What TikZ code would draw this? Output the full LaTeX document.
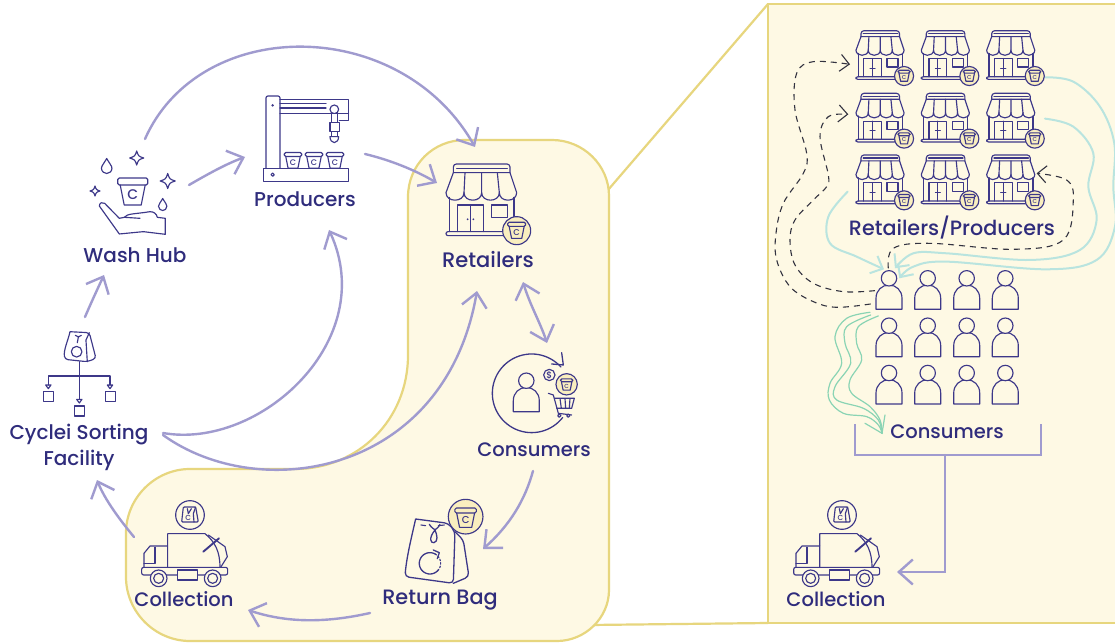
\documentclass[tikz,border=0pt]{standalone}
\usepackage{fontspec}
\setmainfont{Poppins Medium}
\usetikzlibrary{arrows.meta}
\definecolor{navy}{HTML}{2F2C7C}
\definecolor{iconc}{HTML}{3D3889}
\definecolor{lav}{HTML}{A09BCF}
\definecolor{yel}{HTML}{E7D67E}
\definecolor{cream}{HTML}{FEF9E4}
\definecolor{badge}{HTML}{F9EEBF}
\definecolor{tealc}{HTML}{B9E4DF}
\definecolor{greenc}{HTML}{8AD4B4}
\definecolor{dashc}{HTML}{333340}
\newcounter{icn}
\tikzset{
 lbl/.style={text=navy,align=center,inner sep=0pt},
 icon/.style={draw=iconc,line width=1.15pt,line join=round,line cap=round},
 arr/.style={draw=lav,line width=2.4pt,line cap=round,-{Straight Barb[length=14pt,width=25pt]}},
 arrb/.style={draw=lav,line width=2.4pt,line cap=round,{Straight Barb[length=14pt,width=25pt]}-{Straight Barb[length=14pt,width=25pt]}},
 tealline/.style={draw=tealc,line width=2pt,line cap=round,-{Straight Barb[length=10pt,width=19pt]}},
 greenline/.style={draw=greenc,line width=1.2pt,line cap=round},
 dashline/.style={draw=dashc,line width=1.1pt,dash pattern=on 6pt off 5pt,-{Straight Barb[length=9pt,width=17pt]}},
 yelline/.style={draw=yel,line width=2.2pt},
}
\newcommand\fs[1]{\fontsize{#1}{26}\selectfont}
\newcommand\cupicon[3]{%
 \begin{scope}[shift={(#1,#2)},scale=#3]
  \stepcounter{icn}
  \draw[icon,rounded corners=1.5pt] (-15,-13) rectangle (15,-6);
  \draw[icon] (-12.5,-6) -- (-8.5,14) -- (8.5,14) -- (12.5,-6);
  \node[text=iconc,font=\fontsize{14}{14}\selectfont,transform shape,inner sep=0pt] (cupc\arabic{icn}) at (0,4) {C};
 \end{scope}}
\newcommand\shopicon[4]{%
 \begin{scope}[shift={(#1,#2)},scale=#3*0.3333,shift={(-78,-42)}]
  \draw[icon,rounded corners=3pt] (100,68) -- (100,42) -- (270,42) -- (270,68);
  \draw[icon] (110,55) -- (262,55);
  \draw[icon] (100,68) -- (270,68) -- (290,128) .. controls (290,158) and (238,158) .. (238,128) .. controls (238,158) and (185,158) .. (185,128) .. controls (185,158) and (132,158) .. (132,128) .. controls (132,158) and (78,158) .. (78,128) -- cycle;
  \draw[icon] (135,68) -- (132,128) (185,68) -- (185,128) (232,68) -- (238,128);
  \draw[icon] (88,142) -- (88,245) (282,142) -- (282,210);
  \draw[icon,rounded corners=2pt] (78,245) rectangle (255,257);
  \draw[icon] (112,245) -- (112,165) -- (190,165) -- (190,245) (151,165) -- (151,245);
  \draw[icon] (215,165) rectangle (263,202);
  #4
  \draw[icon,fill=badge] (290,242) circle[radius=42pt];
  \cupicon{290}{240}{1.8}
 \end{scope}}
\newcommand\bagicon[3]{%
 \begin{scope}[shift={(#1,#2)},scale=#3*0.3333,shift={(-238,-80)}]
  \draw[icon,rounded corners=3pt] (210,35) -- (268,38) -- (288,115) -- (262,125) -- (195,118) .. controls (190,90) and (205,60) .. (210,35);
  \draw[icon] (268,38) -- (258,60) -- (262,125);
  \draw[icon] (230,95) circle[radius=16pt];
  \draw[icon] (226,46) .. controls (232,52) and (240,52) .. (244,46) (235,52) -- (232,68);
 \end{scope}}
\newcommand\minibag[3]{%
 \begin{scope}[shift={(#1,#2)},scale=#3]
  \stepcounter{icn}
  \draw[icon,rounded corners=1pt] (-20,-25) -- (17,-25) -- (25,20) -- (-25,20) -- cycle;
  \draw[icon] (17,-25) -- (10,-5) -- (12,20);
  \draw[icon] (-8,-20) -- (-5,-5) (4,-20) -- (-5,-5);
  \node[text=iconc,font=\fontsize{22}{22}\selectfont,transform shape,inner sep=0pt] (cupc\arabic{icn}) at (-5,9) {C};
 \end{scope}}
\newcommand\truckicon[1]{%
 \begin{scope}[shift={(120+#1,490)},scale=0.3333]
  \draw[icon] (143,232) -- (143,131) -- (255,131) .. controls (285,155) and (300,185) .. (300,232);
  \draw[icon] (265,135) -- (315,170) -- (322,200) -- (302,232);
  \draw[draw=iconc,line width=1.9pt,line cap=round] (250,185) -- (297,145);
  \draw[icon] (143,168) -- (90,168) -- (72,190) -- (72,232);
  \draw[icon] (105,172) -- (105,220) -- (72,220);
  \draw[icon,rounded corners=2pt] (65,232) rectangle (323,255);
  \draw[icon,fill=cream] (172,240) rectangle (232,270);
  \draw[icon,fill=cream] (116,265) circle[radius=25pt];
  \draw[icon] (116,265) circle[radius=15pt];
  \draw[icon,fill=cream] (278,265) circle[radius=25pt];
  \draw[icon] (278,265) circle[radius=15pt];
  \draw[icon,fill=cream] (210,75) circle[radius=43pt];
  \minibag{210}{76}{1}
 \end{scope}}
\newcommand\personicon[3]{%
 \begin{scope}[shift={(#1,#2)},scale=#3]
  \draw[icon] (-13,0) -- (-13,-11) .. controls (-13,-19) and (-7,-24.3) .. (0,-24.3) .. controls (7,-24.3) and (13,-19) .. (13,-11) -- (13,0) -- cycle;
  \draw[icon,fill=cream] (0,-31) circle[radius=7.7pt];
 \end{scope}}
\newcommand\sparkle[3]{%
 \draw[icon] (#1,#2-#3) .. controls (#1+.25*#3,#2-.25*#3) .. (#1+#3,#2) .. controls (#1+.25*#3,#2+.25*#3) .. (#1,#2+#3) .. controls (#1-.25*#3,#2+.25*#3) .. (#1-#3,#2) .. controls (#1-.25*#3,#2-.25*#3) .. (#1,#2-#3) -- cycle;}
\newcommand\dropicon[3]{%
 \draw[icon] (#1,#2-#3) .. controls (#1+.4*#3,#2-.3*#3) and (#1+.7*#3,#2) .. (#1+.7*#3,#2+.3*#3) .. controls (#1+.7*#3,#2+.75*#3) and (#1+.3*#3,#2+#3) .. (#1,#2+#3) .. controls (#1-.3*#3,#2+#3) and (#1-.7*#3,#2+.75*#3) .. (#1-.7*#3,#2+.3*#3) .. controls (#1-.7*#3,#2) and (#1-.4*#3,#2-.3*#3) .. (#1,#2-#3) -- cycle;}
\begin{document}
\begin{tikzpicture}[x=1pt,y=-1pt]
\useasboundingbox (0,0) rectangle (1115,644);
\fill[white] (0,0) rectangle (1115,644);
% named ends
\coordinate (panelTL) at (768,4);
\coordinate (panelBL) at (768,623);
\coordinate (panelTR) at (1116,4);
\coordinate (panelBR) at (1116,623);
\coordinate (shapeTop) at (608,190);
\coordinate (shapeBot) at (590,625);
% panel
\fill[cream] (panelTL) rectangle (panelBR);
\draw[yelline] (panelTR) -- (panelTL) -- (panelBL) -- (panelBR);
\draw[yelline] (shapeTop) -- (panelTL);
\draw[yelline] (shapeBot) -- (panelBL);
% rounded region
\draw[yelline,fill=cream] (465,140) -- (552,140) .. controls (583,140) and (609,165) .. (609,196) -- (609,590) .. controls (609,618) and (585,641) .. (557,641) -- (190,641) .. controls (155,641) and (126,612) .. (126,577) -- (126,533) .. controls (126,498) and (155,469) .. (190,469) -- (295,469) .. controls (358,469) and (408,420) .. (408,355) -- (408,197) .. controls (408,165) and (433,140) .. (465,140) -- cycle;
% connector ends
\coordinate (hubTop) at (145,139);
\coordinate (retIn1) at (475,147);
\coordinate (hubR) at (189,185);
\coordinate (prodIn) at (245,157);
\coordinate (prodOut) at (365,154);
\coordinate (retIn2) at (437,183);
\coordinate (sortA) at (163,433);
\coordinate (prodIn2) at (329,230);
\coordinate (sortB) at (163,435);
\coordinate (retIn3) at (477,291);
\coordinate (retOut) at (523,282);
\coordinate (consIn) at (547,343);
\coordinate (consOut) at (533,471);
\coordinate (bagIn) at (483,549);
\coordinate (bagOut) at (370,613);
\coordinate (colIn) at (248,610);
\coordinate (colOut) at (134,537);
\coordinate (sortIn) at (97,480);
\coordinate (sortOut) at (85,317);
\coordinate (hubIn) at (104,275);
\draw[arr] (hubTop) .. controls (200,15) and (400,15) .. (retIn1);
\draw[arr] (hubR) .. controls (208,174) and (226,164) .. (prodIn);
\draw[arr] (prodOut) .. controls (390,160) and (415,170) .. (retIn2);
\draw[arr] (sortA) .. controls (260,450) and (380,340) .. (prodIn2);
\draw[arr] (sortB) .. controls (260,505) and (445,475) .. (retIn3);
\draw[arrb] (retOut) .. controls (530,305) and (540,322) .. (consIn);
\draw[arr] (consOut) .. controls (525,500) and (510,525) .. (bagIn);
\draw[arr] (bagOut) .. controls (330,622) and (290,624) .. (colIn);
\draw[arr] (colOut) .. controls (120,520) and (105,500) .. (sortIn);
\draw[arr] (sortOut) .. controls (91,303) and (97,290) .. (hubIn);
% bracket right
\coordinate (brL) at (855,424);
\coordinate (brR) at (1041,424);
\coordinate (stemTop) at (945,455);
\coordinate (colRight) at (897,572);
\draw[draw=lav,line width=2.4pt] (brL) -- (855,455) -- (1041,455) -- (brR);
\draw[arr] (stemTop) -- (945,572) -- (colRight);
% Teal, dashed, green connectors (zoom coordinates)
\begin{scope}[shift={(780,20)},scale=0.3333]
 \coordinate (tealA) at (203,515);
 \coordinate (tealB) at (795,296);
 \coordinate (tealC) at (795,172);
 \coordinate (persA) at (312,748);
 \coordinate (persB) at (345,745);
 \coordinate (persC) at (358,775);
 \coordinate (dashS1) at (285,812);
 \coordinate (dashS2) at (272,852);
 \coordinate (dashS3) at (325,745);
 \coordinate (shop21) at (205,283);
 \coordinate (shop11) at (210,133);
 \coordinate (shop33) at (770,460);
 \coordinate (gS1) at (270,877);
 \coordinate (gS2) at (272,885);
 \coordinate (gS3) at (295,888);
 \coordinate (gE) at (306,1240);
 \draw[tealline] plot[smooth,tension=.6] coordinates {(tealA) (145,590) (150,670) (230,710) (persA)};
 \draw[tealline] plot[smooth,tension=.6] coordinates {(tealB) (880,320) (940,400) (925,500) (950,600) (900,690) (750,720) (500,700) (400,700) (persB)};
 \draw[tealline] plot[smooth,tension=.6] coordinates {(tealC) (880,185) (960,260) (1003,370) (1000,500) (1005,620) (950,720) (800,748) (500,725) (400,740) (persC)};
 \draw[dashline] plot[smooth,tension=.6] coordinates {(dashS1) (190,815) (100,790) (45,735) (30,660) (45,600) (100,540) (140,500) (145,465) (120,350) (145,290) (shop21)};
 \draw[dashline] plot[smooth,tension=.6] coordinates {(dashS2) (170,862) (100,845) (30,800) (-10,720) (-12,640) (10,550) (70,460) (80,400) (45,270) (50,160) (100,125) (shop11)};
 \draw[dashline] plot[smooth,tension=.6] coordinates {(dashS3) (340,685) (450,670) (700,688) (850,660) (880,540) (860,480) (shop33)};
 \draw[greenline] plot[smooth,tension=.6] coordinates {(gS1) (200,895) (165,950) (185,1030) (150,1090) (148,1140) (190,1180) (260,1190) (295,1215) (gE)};
 \draw[greenline] plot[smooth,tension=.6] coordinates {(gS2) (200,920) (195,970) (212,1030) (165,1100) (170,1140) (250,1165) (295,1200) (gE)};
 \draw[greenline] plot[smooth,tension=.6] coordinates {(gS3) (235,920) (230,970) (245,1020) (210,1080) (215,1120) (270,1160) (300,1200) (gE)};
 \draw[greenline] (255,1210) -- (gE) -- (315,1185);
\end{scope}
% Producers machine
\begin{scope}[shift={(60,80)},scale=0.3333]
 \draw[icon,rounded corners=2pt] (618,265) -- (618,48) -- (660,48) -- (660,265);
 \fill[iconc] (638,76) circle[radius=4pt];
 \draw[icon] (660,58) -- (866,58) -- (866,122) -- (838,122) (660,100) -- (866,100);
 \draw[icon] (660,70) -- (798,70) (660,84) -- (798,84);
 \draw[icon] (610,265) rectangle (866,304);
 \draw[icon] (638,284) circle[radius=5pt];
 \draw[icon,fill=white] (823,88) circle[radius=13pt];
 \draw[icon,fill=white] (815,100) rectangle (832,128);
 \draw[icon,fill=white] (810,128) rectangle (838,155);
 \draw[icon,fill=white] (815,155) rectangle (833,170);
 \draw[icon,fill=white] (810,170) -- (836,170) .. controls (836,180) and (830,188) .. (823,188) .. controls (816,188) and (810,180) .. (810,170) -- cycle;
\end{scope}
\cupicon{293}{160}{0.58}
\cupicon{314}{160}{0.58}
\cupicon{335}{160}{0.58}
% Wash hub
\cupicon{132.7}{191}{1}
\begin{scope}[shift={(60,80)},scale=0.3333]
 \draw[icon] (118,378) .. controls (118,368) and (128,365) .. (134,370) -- (178,415) -- (193,412) .. controls (200,400) and (230,402) .. (270,395) .. controls (282,395) and (290,402) .. (292,412) -- (316,415) -- (316,463) -- (250,455) -- (178,462) -- cycle;
 \draw[icon] (193,412) -- (240,415);
\end{scope}
\dropicon{106.7}{166}{7.5}
\dropicon{162.7}{204.5}{6}
\sparkle{136.7}{158}{7}
\sparkle{167.7}{181}{7.5}
\sparkle{95}{191}{5}
% Retailers
\shopicon{446}{164}{1}{\fill[iconc] (143,208) circle[radius=3pt] (160,208) circle[radius=3pt];}
% Consumers
\begin{scope}[shift={(420,150)},scale=0.3333]
 \draw[icon,line width=1.3pt] plot[smooth,samples=60,domain=38:318] ({335+118*cos(\x)},{730+118*sin(\x)});
 \draw[icon,line width=1.3pt] (425,608) -- (430,645) -- (395,642);
 \draw[icon] (388,675) circle[radius=17pt];
 \node[text=iconc,font=\fontsize{9}{9}\selectfont,inner sep=0pt] (dollar) at (388,675) {\$};
 \draw[icon] (385,730) -- (400,735) -- (415,790) -- (455,795);
 \draw[icon] (403,745) -- (463,745) -- (455,775) -- (410,775) (420,745) -- (424,775) (435,745) -- (437,775) (450,745) -- (448,775);
 \draw[icon] (418,797) circle[radius=5pt] (445,797) circle[radius=5pt];
 \draw[icon,fill=badge] (440,703) circle[radius=32pt];
 \cupicon{440}{703}{1.25}
\end{scope}
\personicon{526.3}{411.7}{1}
% Return bag
\begin{scope}[shift={(120,490)},scale=0.3333]
 \draw[icon,line width=1.3pt,rounded corners=4pt] (887,87) -- (985,100) -- (1005,125) -- (1000,280) -- (855,260) .. controls (860,200) and (875,140) .. (887,87);
 \draw[icon,line width=1.3pt,rounded corners=4pt] (1005,125) -- (1030,150) -- (1047,260) -- (1000,280);
 \draw[icon,line width=1.1pt] (903,105) -- (917,107) (955,107) -- (973,105);
 \draw[icon,line width=1.3pt] (928,103) .. controls (935,115) and (945,118) .. (945,120) .. controls (945,118) and (955,115) .. (960,103);
 \draw[icon,line width=1.3pt] (945,120) .. controls (925,145) and (932,160) .. (942,158) .. controls (955,155) and (952,135) .. (945,120);
 \draw[icon,line width=1.3pt] plot[smooth,samples=40,domain=-320:-60] ({930+32*cos(\x)},{220+32*sin(\x)});
 \draw[icon,line width=1.2pt,dash pattern=on 1.5pt off 2pt] plot[smooth,samples=20,domain=-60:40] ({930+32*cos(\x)},{220+32*sin(\x)});
 \draw[icon,line width=1.3pt] (940,180) -- (958,188) -- (952,206);
 \draw[icon,fill=badge] (1037,80) circle[radius=52pt];
 \cupicon{1037}{82}{2.15}
\end{scope}
% Trucks
\truckicon{0}
\truckicon{652}
% Sorting
\begin{scope}[shift={(0,320)},scale=0.3333]
 \draw[icon] (238,125) -- (238,238) (145,195) -- (145,168) -- (330,168) -- (330,195);
 \draw[icon] (137,195) -- (153,195) -- (145,206) -- cycle;
 \draw[icon] (322,195) -- (338,195) -- (330,206) -- cycle;
 \draw[icon] (230,238) -- (246,238) -- (238,249) -- cycle;
 \draw[icon] (130,215) rectangle (160,245);
 \draw[icon] (224,258) rectangle (254,288);
 \draw[icon] (316,215) rectangle (346,245);
\end{scope}
\bagicon{79.3}{346.7}{1}
% Grids
\foreach \i/\ix in {0/856,1/921.3,2/986.7}{
 \foreach \j/\jy in {0/30.7,1/93.3,2/155}{
  \shopicon{\ix}{\jy}{0.68}{\draw[icon] (140,208) -- (162,208);}
 }}
\foreach \ix in {889,927.7,966.7,1005.3}{
 \foreach \jy in {309.3,356.7,404}{
  \personicon{\ix}{\jy}{1}
 }}
% Labels
\node[lbl,font=\fs{20}] (washhub) at (135,255) {Wash Hub};
\node[lbl,font=\fs{20}] (producers) at (305,199) {Producers};
\node[lbl,font=\fs{21}] (retailers) at (488,260) {Retailers};
\node[lbl,font=\fs{19.5}] (consumers) at (534,450) {Consumers};
\node[lbl,font=\fs{20.8}] (returnbag) at (440,600) {Return Bag};
\node[lbl,font=\fs{19.5}] (collection) at (184,599) {Collection};
\node[lbl,font=\fs{20}] (sorting) at (79,447) {Cyclei Sorting\\Facility};
\node[lbl,font=\fs{20.7}] (retprod) at (952,228) {Retailers/Producers};
\node[lbl,font=\fs{19.5}] (consright) at (947,432) {Consumers};
\node[lbl,font=\fs{19.5}] (colright) at (836,599) {Collection};
\end{tikzpicture}
\end{document}
